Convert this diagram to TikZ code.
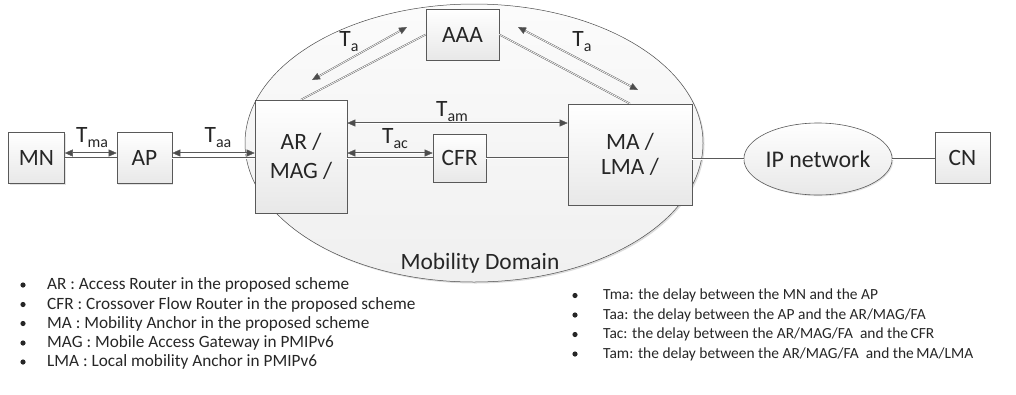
\documentclass[tikz,border=0pt]{standalone}
\usepackage{fontspec}
\setmainfont{Carlito}
\usetikzlibrary{arrows.meta,shapes.geometric,shadows}
\newcommand{\tsub}[1]{\raisebox{-0.45ex}{\fontsize{16}{16}\selectfont #1}}
\begin{document}
\begin{tikzpicture}[x=1bp,y=-1bp,
  box/.style={draw=gray!70!black, line width=0.6bp, top color=white, bottom color=gray!18,
    drop shadow={shadow xshift=1.2bp, shadow yshift=-1.2bp, fill=gray!45},
    font=\fontsize{23.5}{29}\selectfont, align=center, inner sep=0pt, text=black!85},
  link/.style={draw=gray!70!black, line width=0.45bp, double=white, double distance=0.7bp},
  arr/.style={draw=gray!70!black, line width=0.45bp, double=white, double distance=0.7bp,
    {Triangle[length=8bp,width=7bp,fill=black!70]}-{Triangle[length=8bp,width=7bp,fill=black!70]}},
  tlab/.style={font=\fontsize{23.5}{23.5}\selectfont, text=black!85, inner sep=0pt},
  bulL/.style={font=\fontsize{17.3}{19}\selectfont, text=black!85, anchor=west, inner sep=0pt},
  bulR/.style={font=\fontsize{15.5}{18}\selectfont, text=black!85, anchor=west, inner sep=0pt}
]
\useasboundingbox (0,0) rectangle (1016,394);
% mobility domain
\node[ellipse, draw=gray!60!black, line width=0.5bp, top color=gray!3, bottom color=gray!12,
  drop shadow={shadow xshift=1.5bp, shadow yshift=-1.5bp, fill=gray!55},
  minimum width=458bp, minimum height=278bp, inner sep=0pt] (dom) at (474,143) {};
\node[font=\fontsize{23.5}{23.5}\selectfont, text=black!85] (domlab) at (480,263) {Mobility Domain};

% nodes
\node[box, minimum width=56bp, minimum height=51bp] (MN) at (36.5,158) {MN};
\node[box, minimum width=55bp, minimum height=51bp] (AP) at (144.5,158) {AP};
\node[box, minimum width=92bp, minimum height=113bp] (AR) at (301,156.5) {AR /\\MAG /};
\node[box, minimum width=53bp, minimum height=48bp] (CFR) at (459.5,158) {CFR};
\node[box, minimum width=124bp, minimum height=101bp, font=\fontsize{23.5}{25}\selectfont] (MA) at (630,154.5) {MA /\\LMA /};
\node[box, minimum width=73bp, minimum height=51bp] (AAA) at (462.5,34.5) {AAA};
\node[ellipse, draw=gray!70!black, line width=0.6bp, top color=white, bottom color=gray!18,
  drop shadow={shadow xshift=1.2bp, shadow yshift=-1.2bp, fill=gray!45},
  minimum width=146bp, minimum height=72bp, inner sep=0pt, font=\fontsize{24}{24}\selectfont, text=black!85] (IP) at (818,159) {IP network};
\node[box, minimum width=55bp, minimum height=51bp] (CN) at (962.5,157.5) {CN};

% links
\draw[link] (MN.east) -- (AP.west);
\draw[link] (AP.east) -- (AP.east -| AR.west);
\draw[link] (CFR.west -| AR.east) -- (CFR.west);
\draw[link] (CFR.east) -- (CFR.east -| MA.west);
\draw[link] (MA.east |- IP.west) -- (IP.west);
\draw[link] (IP.east) -- (IP.east -| CN.west);
\draw[link] (AR.north) -- (AAA.west);
\draw[link] (AAA.east) -- (MA.north);

% delay arrows
\draw[arr] ([yshift=5bp]MN.east) -- ([yshift=5bp]AP.west);
\draw[arr] ([yshift=5bp]AP.east) -- ([yshift=5bp]AP.east -| AR.west);
\draw[arr] ([yshift=5bp]CFR.west -| AR.east) -- ([yshift=5bp]CFR.west);
\draw[arr] ([yshift=33.5bp]AR.east) -- ([yshift=33.5bp]AR.east -| MA.west);
\coordinate (la1) at (312,80);
\coordinate (la2) at (407,27);
\coordinate (ra1) at (518,27);
\coordinate (ra2) at (638,90);
\draw[arr] (la1) -- (la2);
\draw[arr] (ra1) -- (ra2);

% labels
\node[tlab] (tma) at (92,138) {T\tsub{ma}};
\node[tlab] (taa) at (218,138) {T\tsub{aa}};
\node[tlab] (tac) at (395,139) {T\tsub{ac}};
\node[tlab] (tam) at (452,112) {T\tsub{am}};
\node[tlab] (ta1) at (349,42) {T\tsub{a}};
\node[tlab] (ta2) at (582,42) {T\tsub{a}};

% legends
\foreach \yy/\tx [count=\i] in {285/{AR : Access Router in the proposed scheme},
  304.5/{CFR : Crossover Flow Router in the proposed scheme},
  323.5/{MA : Mobility Anchor in the proposed scheme},
  343/{MAG : Mobile Access Gateway in PMIPv6},
  362/{LMA : Local mobility Anchor in PMIPv6}} {
  \fill[black!85] (23,\yy) circle (2.6bp);
  \node[bulL] (l\i) at (47,\yy) {\tx};
}
\foreach \yy/\tx [count=\i] in {295.5/{Tma: the delay between the MN and the AP},
  315/{Taa: the delay between the AP and the AR/MAG/FA},
  334.5/{Tac: the delay between the AR/MAG/FA\ \ and the\,CFR},
  354/{Tam: the delay between the AR/MAG/FA\ \ and the\,MA/LMA}} {
  \fill[black!85] (575,\yy) circle (2.6bp);
  \node[bulR] (r\i) at (603,\yy) {\tx};
}
\end{tikzpicture}
\end{document}
